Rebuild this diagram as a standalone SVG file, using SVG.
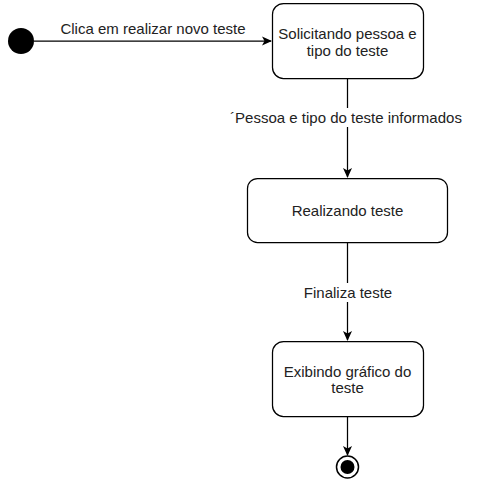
<svg xmlns="http://www.w3.org/2000/svg" width="481" height="485" viewBox="0 0 481 485">
<style>
.node{fill:#fff;stroke:#000;stroke-width:1.25}
.edge{fill:none;stroke:#000;stroke-width:1.25}
text{font-family:"Liberation Sans",Arial,sans-serif;font-size:15px;fill:#222;text-anchor:middle}
.lbg{fill:#fff}
</style>
<defs>
<marker id="arr" viewBox="0 0 10 10" refX="9" refY="5" markerWidth="10" markerHeight="10" markerUnits="userSpaceOnUse" orient="auto">
<path d="M0,0.5 L10,5 L0,9.5 L2.5,5 Z" fill="#000"/>
</marker>
</defs>
<g id="connectors">
<line class="edge" x1="34" y1="41" x2="271" y2="41" marker-end="url(#arr)"/>
<line class="edge" x1="347.5" y1="78" x2="347.5" y2="177" marker-end="url(#arr)"/>
<line class="edge" x1="347.5" y1="242" x2="347.5" y2="340" marker-end="url(#arr)"/>
<line class="edge" x1="347.5" y1="416" x2="347.5" y2="455" marker-end="url(#arr)"/>
<text x="153" y="34">Clica em realizar novo teste</text>
<rect class="lbg" x="228" y="108" width="238" height="19"/>
<text x="346" y="123">´Pessoa e tipo do teste informados</text>
<rect class="lbg" x="300" y="283" width="96" height="19"/>
<text x="348" y="298">Finaliza teste</text>
</g>
<g id="start">
<circle cx="21" cy="41" r="13" fill="#000"/>
</g>
<g id="solicitando">
<rect class="node" x="272.5" y="3.5" width="151" height="75" rx="11"/>
<text x="347.5" y="39">Solicitando pessoa e</text>
<text x="347.5" y="56">tipo do teste</text>
</g>
<g id="realizando">
<rect class="node" x="247.5" y="178.5" width="200" height="64" rx="10"/>
<text x="347.5" y="216">Realizando teste</text>
</g>
<g id="exibindo">
<rect class="node" x="272.5" y="341.5" width="151" height="75" rx="11"/>
<text x="347.5" y="377">Exibindo gráfico do</text>
<text x="347.5" y="393">teste</text>
</g>
<g id="end">
<circle cx="347.5" cy="467" r="11" fill="#fff" stroke="#000" stroke-width="1.5"/>
<circle cx="347.5" cy="467" r="7" fill="#000"/>
</g>
</svg>
